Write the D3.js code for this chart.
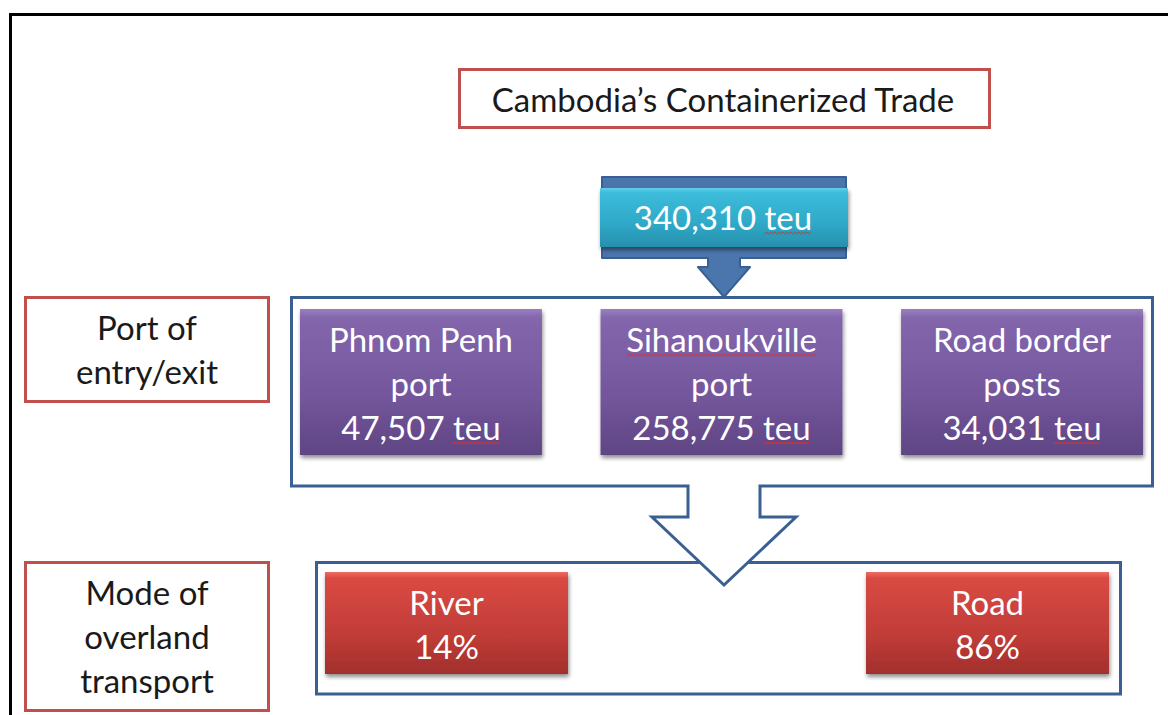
<!DOCTYPE html>
<html><head><meta charset="utf-8">
<script src="https://cdn.jsdelivr.net/npm/d3@7"></script>
<style>html,body{margin:0;background:#fff}svg{display:block}</style>
</head><body>
<svg id="c" width="1168" height="715"></svg>
<script>
// ---- data ----
const title = "Cambodia’s Containerized Trade";
const totalTeu = 340310;
const ports = ["Phnom Penh", "Sihanoukville", "Road border"];
const portKind = ["port", "port", "posts"];
const portTeu = [47507, 258775, 34031];
const modes = ["River", "Road"];
const modeShare = [14, 86];
const stageLabels = [["Port of", "entry/exit"], ["Mode of", "overland", "transport"]];
const misspelled = ["teu", "Sihanoukville"];

// ---- setup ----
const svg = d3.select("#c");
const FONT = "Lato, 'Open Sans', sans-serif";
const fmt = d3.format(",");
const defs = svg.append("defs");

function grad(id, stops) {
  const g = defs.append("linearGradient").attr("id", id).attr("x1", 0).attr("y1", 0).attr("x2", 0).attr("y2", 1);
  stops.forEach(([o, c]) => g.append("stop").attr("offset", o).attr("stop-color", c));
}
grad("gTeal", [[0, "#5fd0ea"], [0.08, "#3dbcdb"], [0.6, "#2fa9c8"], [1, "#2790ad"]]);
grad("gPurple", [[0, "#9a7fc0"], [0.06, "#8466ad"], [0.6, "#73569b"], [1, "#5f4584"]]);
grad("gRed", [[0, "#ee6a64"], [0.06, "#d94a43"], [0.6, "#c23d38"], [1, "#a22f2c"]]);
const f = defs.append("filter").attr("id", "shadow").attr("x", "-10%").attr("y", "-10%").attr("width", "130%").attr("height", "140%");
f.append("feGaussianBlur").attr("in", "SourceAlpha").attr("stdDeviation", 2);
f.append("feOffset").attr("dx", 1).attr("dy", 3).attr("result", "b");
f.append("feComponentTransfer").append("feFuncA").attr("type", "linear").attr("slope", 0.45);
const m = f.append("feMerge"); m.append("feMergeNode"); m.append("feMergeNode").attr("in", "SourceGraphic");

// outer frame
svg.append("path").attr("d", "M10.5,715 V14.5 H1168").attr("fill", "none").attr("stroke", "#000").attr("stroke-width", 3);

const lineH = 44;
const FS = 33;
function textBlock(g, lines, cx, cy, size, color) {
  const n = lines.length;
  lines.forEach((ln, i) => {
    const t = g.append("text").attr("x", cx).attr("y", cy + (i - (n - 1) / 2) * lineH)
      .attr("text-anchor", "middle").attr("dominant-baseline", "central")
      .attr("font-family", FONT).attr("font-size", size).attr("fill", color).text(ln);
    misspelled.forEach(w => {
      const idx = ln.indexOf(w);
      if (idx < 0) return;
      const node = t.node();
      const bb = node.getBBox();
      const x0 = bb.x + (idx > 0 ? node.getSubStringLength(0, idx) : 0);
      const wl = node.getSubStringLength(idx, w.length);
      const yb = bb.y + bb.height - 4;
      const pts = [];
      for (let x = 0, k = 0; x <= wl; x += 2, k++) pts.push([x0 + x, yb + (k % 2 ? -1.2 : 1.2)]);
      g.append("path").attr("d", d3.line()(pts)).attr("fill", "none").attr("stroke", "#e03030").attr("stroke-width", 1);
    });
  });
}

// title
svg.append("rect").attr("x", 459.5).attr("y", 69.5).attr("width", 530).attr("height", 58)
  .attr("fill", "#fff").attr("stroke", "#c0504d").attr("stroke-width", 3);
textBlock(svg.append("g"), [title], 723, 99, FS, "#1a1a1a");

// stage labels
const stageY = [[297, 401], [562, 710]];
stageLabels.forEach((lines, i) => {
  const [y0, y1] = stageY[i];
  svg.append("rect").attr("x", 25.5).attr("y", y0 + 0.5).attr("width", 243).attr("height", y1 - y0)
    .attr("fill", "#fff").attr("stroke", "#c0504d").attr("stroke-width", 3);
  textBlock(svg.append("g"), lines, 147, (y0 + y1) / 2, FS, "#1a1a1a");
});

// total box + arrow
const blue = "#4a76ad", blueStroke = "#3a6093";
svg.append("path")
  .attr("d", "M602,177 H846 V258 H740 V267 H750 L724,297 L698,267 H708 V258 H602 Z")
  .attr("fill", blue).attr("stroke", blueStroke).attr("stroke-width", 2).attr("stroke-linejoin", "round");
svg.append("rect").attr("x", 600).attr("y", 188).attr("width", 248).attr("height", 59)
  .attr("fill", "url(#gTeal)").attr("filter", "url(#shadow)");
textBlock(svg.append("g"), [fmt(totalTeu) + " teu"], 723, 217, FS, "#fff");

// mode group (drawn first so the outline arrow covers its top line)
svg.append("rect").attr("x", 316.5).attr("y", 562.5).attr("width", 804).attr("height", 131.5)
  .attr("fill", "none").attr("stroke", blueStroke).attr("stroke-width", 3);

// white interior of outline arrow
svg.append("path").attr("d", "M689,487 H759 V517 H796 L724,585 L652,517 H689 Z").attr("fill", "#fff");

// port group with outline arrow
svg.append("path")
  .attr("d", "M291.5,297.5 H1152.5 V486 H760 V517 H796 L724,585 L652,517 H688 V486 H291.5 Z")
  .attr("fill", "none").attr("stroke", blueStroke).attr("stroke-width", 3).attr("stroke-linejoin", "miter");

const xPort = d3.scaleBand().domain(ports).range([300, 1143]).paddingInner(0.195);
const pg = svg.append("g").selectAll("g").data(ports).join("g");
pg.append("rect").attr("x", d => xPort(d)).attr("y", 309).attr("width", xPort.bandwidth()).attr("height", 146)
  .attr("fill", "url(#gPurple)").attr("filter", "url(#shadow)");
pg.each(function (d, i) {
  textBlock(d3.select(this), [d, portKind[i], fmt(portTeu[i]) + " teu"], xPort(d) + xPort.bandwidth() / 2, 383, FS, "#fff");
});

const xMode = d3.scaleOrdinal().domain(modes).range([325, 866]);
const mg = svg.append("g").selectAll("g").data(modes).join("g");
mg.append("rect").attr("x", d => xMode(d)).attr("y", 572).attr("width", 243).attr("height", 102)
  .attr("fill", "url(#gRed)").attr("filter", "url(#shadow)");
mg.each(function (d, i) {
  textBlock(d3.select(this), [d, modeShare[i] + "%"], xMode(d) + 121.5, 624, FS, "#fff");
});
</script>
</body></html>
